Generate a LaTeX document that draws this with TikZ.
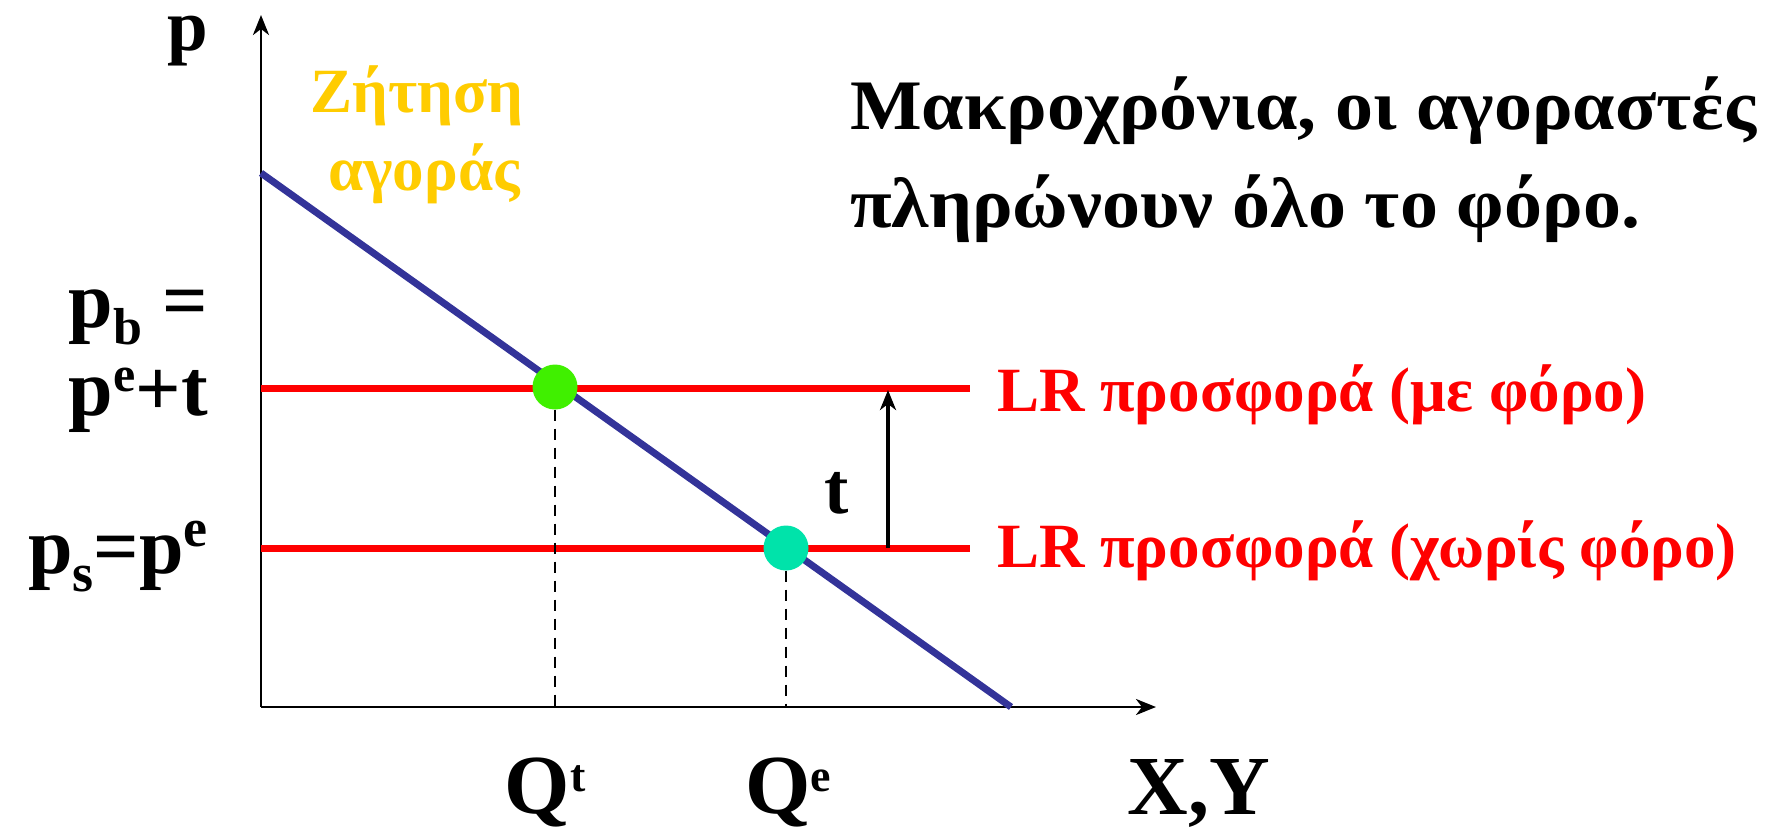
\documentclass[tikz,border=0pt]{standalone}
\usepackage{fontspec}
\setmainfont{Liberation Serif}
\newfontfamily\titlefont{Liberation Serif}[FakeStretch=1.07]
\usetikzlibrary{arrows.meta,shapes.geometric}
\definecolor{demandblue}{HTML}{333399}
\definecolor{gold}{HTML}{FFCC00}
\definecolor{dotgreen}{RGB}{64,240,0}
\definecolor{dotteal}{RGB}{0,227,170}
\newcommand\upidx[3]{\raisebox{#2pt}{\fontsize{#1}{#1}\selectfont #3}}
\newcommand\dnidx[3]{\raisebox{-#2pt}{\fontsize{#1}{#1}\selectfont #3}}
\tikzset{
  axis/.style={line width=2.8pt,-{Stealth[length=20pt,width=16pt,inset=6pt]}},
  demand/.style={line width=7pt,demandblue},
  supply/.style={line width=7pt,red},
  dropline/.style={line width=2.5pt,dash pattern=on 11pt off 8pt},
  eqdot/.style={circle,minimum size=45pt,inner sep=0pt},
  bigtxt/.style={font=\fontsize{80}{90}\selectfont\bfseries,inner sep=0pt},
  qtxt/.style={font=\fontsize{84}{90}\selectfont\bfseries,inner sep=0pt},
  ttxt/.style={font=\fontsize{73}{80}\selectfont\bfseries,inner sep=0pt},
  midtxt/.style={font=\titlefont\fontsize{71}{98}\selectfont\bfseries,inner sep=0pt},
  smalltxt/.style={font=\fontsize{63}{78}\selectfont\bfseries,inner sep=0pt},
  taxarrow/.style={line width=3.5pt,-{Stealth[length=20pt,width=16pt,inset=6pt]}}
}
\begin{document}
\begin{tikzpicture}[x=1pt,y=-1pt]
\useasboundingbox (0,0) rectangle (1765,831);
% axes
\coordinate (O) at (261,707);
\coordinate (ytop) at (261,15);
\coordinate (xend) at (1156,707);
\draw[axis] (O) -- (ytop);
\draw[axis] (O) -- (xend);
% supply lines
\coordinate (S1a) at (261,388);
\coordinate (S1b) at (970,388);
\coordinate (S2a) at (261,548);
\coordinate (S2b) at (970,548);
\draw[supply] (S1a) -- (S1b);
\draw[supply] (S2a) -- (S2b);
% demand
\coordinate (D1) at (261,173);
\coordinate (D2) at (1011,707);
\draw[demand] (D1) -- (D2);
% equilibrium dots
\node[eqdot,fill=dotgreen] (Et) at (555,387) {};
\node[eqdot,fill=dotteal] (Ee) at (786,548) {};
\draw[dropline] (Et.south) -- (Et |- O);
\draw[dropline] (Ee.south) -- (Ee |- O);
% tax arrow
\coordinate (ta) at (888,548);
\coordinate (tb) at (888,390);
\draw[taxarrow] (ta) -- (tb);
\node[ttxt,anchor=base] (tlab) at (837,513) {t};
% axis labels
\node[ttxt,anchor=base] (plab) at (188,50) {p};
\node[bigtxt,anchor=base east] (pb) at (208,327) {p\dnidx{52}{17}{b} =};
\node[bigtxt,anchor=base east] (pet) at (208,415) {p\upidx{50}{24}{e}+t};
\node[bigtxt,anchor=base east] (pse) at (208,573) {p\dnidx{54}{18}{s}=p\upidx{54}{27}{e}};
\node[qtxt,anchor=base] (Qt) at (545,813) {Q\upidx{46}{22}{t}};
\node[qtxt,anchor=base] (Qe) at (788,813) {Q\upidx{46}{22}{e}};
\node[qtxt,anchor=base] (XY) at (1199,814) {X,Y};
% demand label
\node[smalltxt,text=gold,anchor=base] (dem1) at (417,112) {Ζήτηση};
\node[smalltxt,text=gold,anchor=base] (dem2) at (424,190) {αγοράς};
% supply labels
\node[smalltxt,text=red,anchor=base west] (lr1) at (997,411) {LR προσφορά (με φόρο)};
\node[smalltxt,text=red,anchor=base west] (lr2) at (997,567) {LR προσφορά (χωρίς φόρο)};
% title
\node[midtxt,anchor=base west] (title1) at (850,129) {Μακροχρόνια, οι αγοραστές};
\node[midtxt,anchor=base west] (title2) at (850,227) {πληρώνουν όλο το φόρο.};
\end{tikzpicture}
\end{document}
